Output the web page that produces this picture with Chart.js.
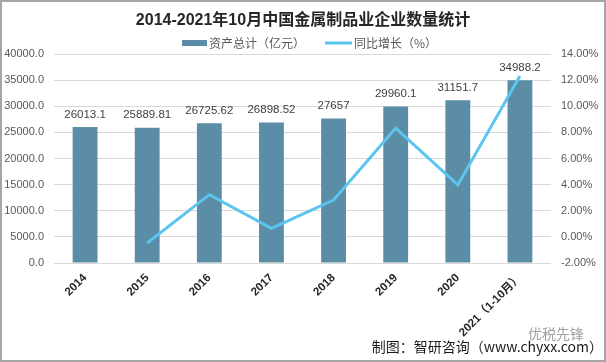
<!DOCTYPE html>
<html>
<head>
<meta charset="utf-8">
<script src="https://cdn.jsdelivr.net/npm/chart.js@4.4.0/dist/chart.umd.min.js"></script>
<style>
  html, body { margin: 0; padding: 0; background: #fff; }
  canvas { display: block; }
</style>
</head>
<body>
<canvas id="chart" width="606" height="362"></canvas>
<script>
// data
var years = ['2014', '2015', '2016', '2017', '2018', '2019', '2020', '2021（1-10月）'];
var assets = [26013.1, 25889.81, 26725.62, 26898.52, 27657, 29960.1, 31151.7, 34988.2];
var growth = [null, -0.47, 3.23, 0.65, 2.82, 8.33, 3.98, 12.31];

var titleText = '2014-2021年10月中国金属制品业企业数量统计';
var barLabel = '资产总计（亿元）';
var lineLabel = '同比增长（%）';
var footText = '制图：智研咨询（www.chyxx.com）';
var wechatText = '优税先锋';

var barColor = '#5B8DA6';
var lineColor = '#5BC5F0';
var latin = '"Liberation Sans", "Noto Sans CJK SC", sans-serif';
var cjk = '"Noto Sans CJK SC", "Liberation Sans", sans-serif';

var extras = {
    id: 'extras',
    afterDraw: function (chart) {
        var ctx = chart.ctx;
        var W = chart.width, H = chart.height;
        ctx.save();

        // title
        ctx.fillStyle = '#262626';
        ctx.font = 'bold 16px ' + latin;
        ctx.textAlign = 'center';
        ctx.textBaseline = 'middle';
        ctx.fillText(titleText, W / 2, 21);

        // legend
        ctx.font = '12px ' + cjk;
        ctx.textAlign = 'left';
        ctx.fillStyle = barColor;
        ctx.fillRect(182, 40, 25, 6);
        ctx.fillStyle = '#595959';
        ctx.fillText(barLabel, 209, 43);
        ctx.strokeStyle = lineColor;
        ctx.lineWidth = 3;
        ctx.beginPath();
        ctx.moveTo(325, 43);
        ctx.lineTo(352, 43);
        ctx.stroke();
        ctx.fillText(lineLabel, 354, 43);

        // value labels above the bars
        var meta = chart.getDatasetMeta(1);
        ctx.font = '11.5px ' + latin;
        ctx.fillStyle = '#404040';
        ctx.textAlign = 'center';
        ctx.textBaseline = 'bottom';
        meta.data.forEach(function (bar, i) {
            ctx.fillText(String(assets[i]), bar.x, bar.y - 7);
        });

        // footer
        ctx.fillStyle = '#a0a0a0';
        ctx.font = '14px ' + cjk;
        ctx.textAlign = 'left';
        ctx.textBaseline = 'middle';
        ctx.fillText(wechatText, 528, 334);
        ctx.fillStyle = '#1a1a1a';
        ctx.font = '14px ' + cjk;
        ctx.textAlign = 'right';
        ctx.fillText(footText, 603, 347);

        // frame
        ctx.strokeStyle = '#a6a6a6';
        ctx.lineWidth = 2;
        ctx.strokeRect(1, 1, W - 2, H - 2);
        ctx.restore();
    }
};

new Chart(document.getElementById('chart'), {
    data: {
        labels: years,
        datasets: [
            {
                type: 'line',
                label: lineLabel,
                data: growth,
                yAxisID: 'y1',
                borderColor: lineColor,
                borderWidth: 3,
                pointRadius: 0,
                tension: 0,
                fill: false,
                order: 0
            },
            {
                type: 'bar',
                label: barLabel,
                data: assets,
                yAxisID: 'y',
                backgroundColor: barColor,
                categoryPercentage: 1,
                barPercentage: 0.4,
                order: 1
            }
        ]
    },
    options: {
        responsive: false,
        animation: false,
        layout: { padding: { top: 54, left: 0, right: 0, bottom: 0 } },
        plugins: {
            legend: { display: false },
            title: { display: false },
            tooltip: { enabled: false }
        },
        scales: {
            x: {
                offset: true,
                grid: { display: false },
                border: { display: false },
                ticks: {
                    autoSkip: false,
                    minRotation: 45,
                    maxRotation: 45,
                    padding: 0,
                    color: '#262626',
                    font: { family: latin, size: 11.5, weight: 'bold' }
                },
                afterFit: function (s) { s.height = 99; }
            },
            y: {
                position: 'left',
                min: 0,
                max: 40000,
                ticks: {
                    stepSize: 5000,
                    padding: 10,
                    color: '#595959',
                    font: { family: latin, size: 11 },
                    callback: function (v) { return v.toFixed(1); }
                },
                grid: { color: '#d9d9d9', drawTicks: false },
                border: { display: false },
                afterFit: function (s) { s.width = 54; }
            },
            y1: {
                position: 'right',
                min: -2,
                max: 14,
                ticks: {
                    stepSize: 2,
                    padding: 10,
                    color: '#595959',
                    font: { family: latin, size: 11 },
                    callback: function (v) { return v.toFixed(2) + '%'; }
                },
                grid: { display: false, drawTicks: false },
                border: { display: false },
                afterFit: function (s) { s.width = 55; }
            }
        }
    },
    plugins: [extras]
});
</script>
</body>
</html>
